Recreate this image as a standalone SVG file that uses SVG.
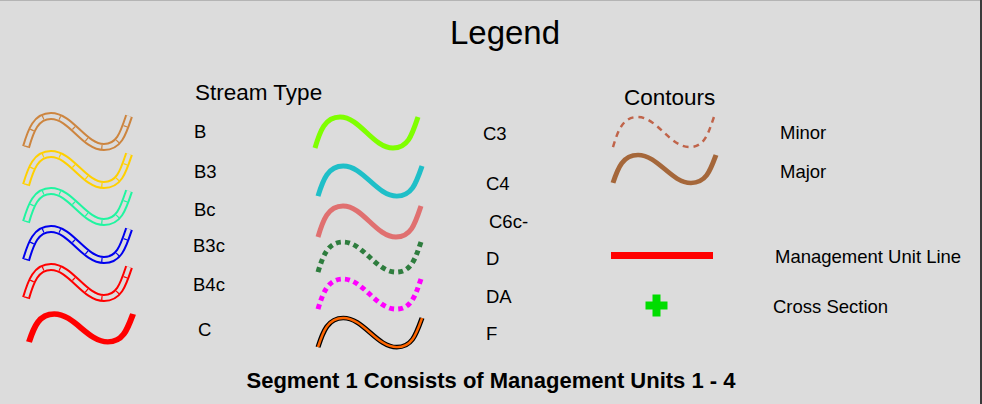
<svg xmlns="http://www.w3.org/2000/svg" xmlns:xlink="http://www.w3.org/1999/xlink" width="982" height="404" viewBox="0 0 982 404">
<style>
text{font-family:"Liberation Sans",Arial,sans-serif;fill:#000}
.lbl{font-size:18.5px}
.hdr{font-size:22.5px}
.w{fill:none;stroke-linejoin:round}
.gap{stroke:#dcdcdc;stroke-width:4}
.tick{stroke-width:4;stroke-dasharray:1.2 16}
</style>
<defs>
<path id="wave" d="M0,31 C5,14 10,0 25,0 C45,0 58,31 78,31 C93,31 97,18 103,0"/>
</defs>
<rect x="0" y="0" width="982" height="404" fill="#dcdcdc"/>
<rect x="0" y="0" width="982" height="1" fill="#b4b4b4"/>
<rect x="980" y="0" width="2" height="404" fill="#3a3a3a"/>

<text x="505" y="44" text-anchor="middle" font-size="33">Legend</text>
<text class="hdr" x="195" y="100">Stream Type</text>
<text class="hdr" x="624" y="105">Contours</text>

<g id="B" transform="translate(26,116)">
<use href="#wave" class="w" stroke="#cd853f" stroke-width="8"/>
<use href="#wave" class="w gap"/>
<use href="#wave" class="w tick" stroke="#cd853f"/>
</g>
<text class="lbl" x="194" y="138">B</text>

<g id="B3" transform="translate(26,154)">
<use href="#wave" class="w" stroke="#ffd000" stroke-width="8"/>
<use href="#wave" class="w gap"/>
<use href="#wave" class="w tick" stroke="#ffd000"/>
</g>
<text class="lbl" x="194" y="178">B3</text>

<g id="Bc" transform="translate(26,191)">
<use href="#wave" class="w" stroke="#20f5a0" stroke-width="8"/>
<use href="#wave" class="w gap"/>
<use href="#wave" class="w tick" stroke="#20f5a0"/>
</g>
<text class="lbl" x="194" y="216">Bc</text>

<g id="B3c" transform="translate(26,229)">
<use href="#wave" class="w" stroke="#0000ee" stroke-width="8"/>
<use href="#wave" class="w gap"/>
<use href="#wave" class="w tick" stroke="#0000ee"/>
</g>
<text class="lbl" x="193" y="252">B3c</text>

<g id="B4c" transform="translate(26,267)">
<use href="#wave" class="w" stroke="#ff0000" stroke-width="8"/>
<use href="#wave" class="w gap"/>
<use href="#wave" class="w tick" stroke="#ff0000"/>
</g>
<text class="lbl" x="193" y="291">B4c</text>

<g id="C" transform="translate(29,314) scale(1.01,0.9)">
<use href="#wave" class="w" stroke="#ff0000" stroke-width="6"/>
</g>
<text class="lbl" x="198" y="336">C</text>

<g id="C3" transform="translate(315,117)">
<use href="#wave" class="w" stroke="#7fff00" stroke-width="5"/>
</g>
<text class="lbl" x="483" y="140">C3</text>

<g id="C4" transform="translate(318,166) scale(1.01,0.97)">
<use href="#wave" class="w" stroke="#1fbfc8" stroke-width="5"/>
</g>
<text class="lbl" x="486" y="190">C4</text>

<g id="C6c-" transform="translate(318,206)">
<use href="#wave" class="w" stroke="#e07070" stroke-width="5"/>
</g>
<text class="lbl" x="489" y="228">C6c-</text>

<g id="D" transform="translate(318,242) scale(1,0.97)">
<use href="#wave" class="w" stroke="#2e7d3e" stroke-width="5" stroke-dasharray="5 4"/>
</g>
<text class="lbl" x="486" y="265">D</text>

<g id="DA" transform="translate(318,279) scale(1,0.97)">
<use href="#wave" class="w" stroke="#ff00ff" stroke-width="5" stroke-dasharray="5 4"/>
</g>
<text class="lbl" x="486" y="303">DA</text>

<g id="F" transform="translate(318,318) scale(1.01,0.94)">
<use href="#wave" class="w" stroke="#000" stroke-width="5"/>
<use href="#wave" class="w" stroke="#ff6600" stroke-width="2.5"/>
</g>
<text class="lbl" x="486" y="340">F</text>

<g id="Minor" transform="translate(613,117) scale(0.98,0.97)">
<use href="#wave" class="w" stroke="#c0644a" stroke-width="2.5" stroke-dasharray="6 5"/>
</g>
<text class="lbl" x="780" y="139">Minor</text>

<g id="Major" transform="translate(613,155) scale(1,0.9)">
<use href="#wave" class="w" stroke="#a5673a" stroke-width="5"/>
</g>
<text class="lbl" x="780" y="178">Major</text>

<g id="MgmtUnitLine">
<rect x="611" y="252" width="102" height="7" fill="#ff0000"/>
</g>
<text class="lbl" x="775" y="263">Management Unit Line</text>

<g id="CrossSection" fill="#00dd00">
<rect x="652.5" y="294.5" width="8" height="22"/>
<rect x="645.5" y="301.5" width="22" height="8"/>
</g>
<text class="lbl" x="773" y="313">Cross Section</text>

<text x="491" y="388" text-anchor="middle" font-size="22" font-weight="bold">Segment 1 Consists of Management Units 1 - 4</text>
</svg>
